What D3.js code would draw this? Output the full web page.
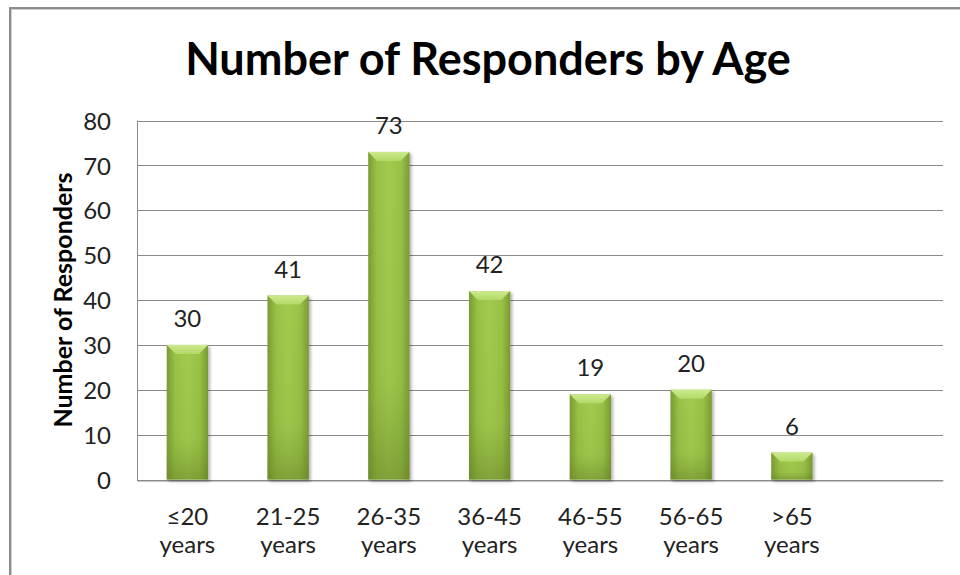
<!DOCTYPE html>
<html>
<head>
<meta charset="utf-8">
<script src="https://cdn.jsdelivr.net/npm/d3@7"></script>
<style>
  html, body { margin: 0; padding: 0; background: #fff; }
  svg { display: block; }
</style>
</head>
<body>
<svg id="chart" width="960" height="575"></svg>
<script>
// Survey responders grouped by age band
const categories = ["≤20|years", "21-25|years", "26-35|years", "36-45|years", "46-55|years", "56-65|years", ">65|years", ""];
const responders = [30, 41, 73, 42, 19, 20, 6];
const yTicks = [0, 10, 20, 30, 40, 50, 60, 70, 80];

const svg = d3.select("#chart");
const plot = { left: 137, right: 943, top: 120.5, bottom: 479.5 };
const FONT = "Lato, 'Open Sans', 'DejaVu Sans', sans-serif";

// chart frame
svg.append("rect").attr("x", 10).attr("y", 8).attr("width", 1000).attr("height", 1000)
  .attr("fill", "#fff").attr("stroke", "#8c8c8c").attr("stroke-width", 2);
svg.append("rect").attr("x", 11.5).attr("y", 9.5).attr("width", 1000).attr("height", 1000)
  .attr("fill", "none").attr("stroke", "#d0d0d0").attr("stroke-width", 1);

const x = d3.scaleBand().domain(categories.map((c, i) => i))
  .range([plot.left, plot.right]).paddingInner(0.59).paddingOuter(0.295);
const y = d3.scaleLinear().domain([0, 80]).range([plot.bottom, plot.top]);

// gradients and shadow for the bevelled bars
const defs = svg.append("defs");
const body = defs.append("linearGradient").attr("id", "barBody").attr("x1", 0).attr("x2", 1).attr("y1", 0).attr("y2", 0);
[[0, "#7a9a33"], [0.2, "#98c146"], [0.5, "#a3cb4f"], [0.8, "#98c146"], [1, "#7a9a33"]]
  .forEach(([o, c]) => body.append("stop").attr("offset", o).attr("stop-color", c));
const bottomShade = defs.append("linearGradient").attr("id", "barBottom").attr("x1", 0).attr("x2", 0).attr("y1", 0).attr("y2", 1);
bottomShade.append("stop").attr("offset", 0).attr("stop-color", "#6e8c2a").attr("stop-opacity", 0);
bottomShade.append("stop").attr("offset", 0.7).attr("stop-color", "#6e8c2a").attr("stop-opacity", 0.1);
bottomShade.append("stop").attr("offset", 1).attr("stop-color", "#5f7a22").attr("stop-opacity", 0.5);
const topBevel = defs.append("linearGradient").attr("id", "barTop").attr("x1", 0).attr("x2", 0).attr("y1", 0).attr("y2", 1);
topBevel.append("stop").attr("offset", 0).attr("stop-color", "#cdea8f");
topBevel.append("stop").attr("offset", 1).attr("stop-color", "#b2d966");
const shadow = defs.append("filter").attr("id", "barShadow").attr("x", "-20%").attr("y", "-10%").attr("width", "150%").attr("height", "130%");
shadow.append("feDropShadow").attr("dx", 2).attr("dy", 2).attr("stdDeviation", 1.6)
  .attr("flood-color", "#000").attr("flood-opacity", 0.3);

// horizontal gridlines
svg.append("g").selectAll("line").data(yTicks).join("line")
  .attr("x1", plot.left).attr("x2", plot.right)
  .attr("y1", d => Math.round(y(d)) + 0.5).attr("y2", d => Math.round(y(d)) + 0.5)
  .attr("stroke", "#8a8a8a").attr("stroke-width", 1);

// value axis
const yAxis = svg.append("g").attr("transform", `translate(${plot.left},0)`)
  .call(d3.axisLeft(y).tickValues(yTicks).tickSize(0).tickPadding(26));
yAxis.select(".domain").attr("stroke", "#8a8a8a").attr("d", `M0.5,${plot.top}V${plot.bottom + 0.5}`);
yAxis.selectAll("text").attr("font-family", FONT).attr("font-size", 24).attr("fill", "#222").attr("dy", "0.36em");

// category axis, two-line labels
const xAxis = svg.append("g").attr("transform", `translate(0,${Math.round(plot.bottom) + 0.5})`)
  .call(d3.axisBottom(x).tickSize(0).tickFormat(""));
xAxis.select(".domain").attr("stroke", "#8a8a8a");
xAxis.selectAll(".tick").each(function (i) {
  const lines = categories[i] ? categories[i].split("|") : [];
  const t = d3.select(this).append("text").attr("font-family", FONT).attr("font-size", 24)
    .attr("fill", "#222").attr("text-anchor", "middle");
  lines.forEach((l, k) => t.append("tspan").attr("x", 0).attr("y", 44 + k * 28).text(l));
});

// bars
const bev = 9;
const bars = svg.append("g").selectAll("g").data(responders).join("g").attr("filter", "url(#barShadow)");
bars.append("rect")
  .attr("x", (d, i) => x(i)).attr("y", d => y(d))
  .attr("width", x.bandwidth()).attr("height", d => y(0) - y(d))
  .attr("fill", "url(#barBody)");
bars.append("rect")
  .attr("x", (d, i) => x(i)).attr("y", d => y(d))
  .attr("width", x.bandwidth()).attr("height", d => y(0) - y(d))
  .attr("fill", "url(#barBottom)");
bars.append("path")
  .attr("d", (d, i) => {
    const x0 = x(i), x1 = x(i) + x.bandwidth(), y0 = y(d);
    return `M${x0},${y0}H${x1}L${x1 - bev},${y0 + bev}H${x0 + bev}Z`;
  })
  .attr("fill", "url(#barTop)");

// value labels
svg.append("g").selectAll("text").data(responders).join("text")
  .attr("x", (d, i) => x(i) + x.bandwidth() / 2).attr("y", d => y(d) - 18)
  .attr("text-anchor", "middle").attr("font-family", FONT).attr("font-size", 24).attr("fill", "#222")
  .text(d => d);

// titles
svg.append("text").attr("x", 488).attr("y", 75).attr("text-anchor", "middle")
  .attr("font-family", FONT).attr("font-weight", "bold").attr("font-size", 45).attr("fill", "#000")
  .text("Number of Responders by Age");
svg.append("text").attr("transform", "translate(72,300) rotate(-90)").attr("text-anchor", "middle")
  .attr("font-family", FONT).attr("font-weight", "bold").attr("font-size", 25).attr("fill", "#000")
  .text("Number of Responders");
</script>
</body>
</html>
